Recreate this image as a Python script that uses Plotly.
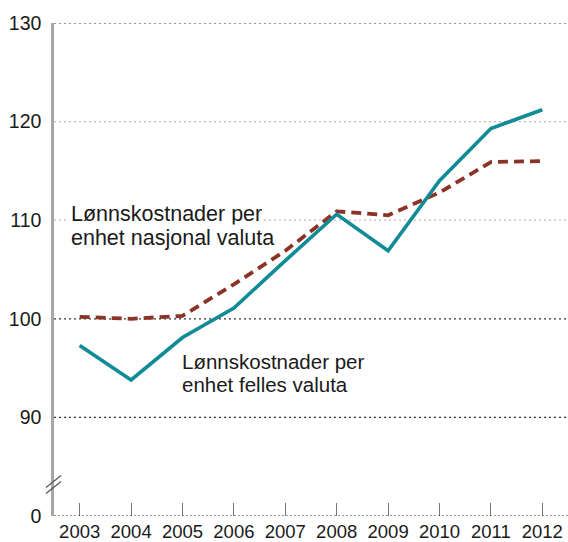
import plotly.graph_objects as go

years = [2003, 2004, 2005, 2006, 2007, 2008, 2009, 2010, 2011, 2012]
felles_valuta = [97.3, 93.8, 98.1, 101.1, 105.9, 110.6, 106.9, 114.0, 119.3, 121.2]
nasjonal_valuta = [100.2, 100.0, 100.3, 103.5, 106.9, 110.9, 110.5, 112.8, 115.9, 116.0]

# axis break: value 0 is drawn at position 80
ytick_vals = [80, 90, 100, 110, 120, 130]
ytick_text = ["0", "90", "100", "110", "120", "130"]
grid_dark = [90, 100, 130]
grid_light = [110, 120]

label_nasjonal = ["Lønnskostnader per", "enhet nasjonal valuta"]
label_felles = ["Lønnskostnader per", "enhet felles valuta"]

TEAL = "#118b95"
RED = "#8c3327"
FONT = "Liberation Sans, Arial, sans-serif"

fig = go.Figure()
fig.add_trace(go.Scatter(x=years, y=nasjonal_valuta, mode="lines",
                         line=dict(color=RED, width=3.8, dash="10px,6px"),
                         name="nasjonal"))
fig.add_trace(go.Scatter(x=years, y=felles_valuta, mode="lines",
                         line=dict(color=TEAL, width=3.6),
                         name="felles"))

shapes = []
for g in grid_dark:
    shapes.append(dict(type="line", xref="paper", x0=0, x1=1, yref="y", y0=g, y1=g,
                       line=dict(color="#333333", width=1.2, dash="2px,3px"), layer="below"))
for g in grid_light:
    shapes.append(dict(type="line", xref="paper", x0=0, x1=1, yref="y", y0=g, y1=g,
                       line=dict(color="#bdbdbd", width=1.2, dash="2px,3px"), layer="below"))
# bottom axis line (dotted)
shapes.append(dict(type="line", xref="paper", x0=0, x1=1, yref="y", y0=80, y1=80,
                   line=dict(color="#333333", width=1.2, dash="2px,2px"), layer="above"))
# axis break marks
for off in [-3, 3]:
    shapes.append(dict(type="line", xref="paper", yref="y",
                       xsizemode="pixel", ysizemode="pixel", xanchor=0, yanchor=83.2,
                       x0=-8, x1=7, y0=off - 6, y1=off + 6,
                       line=dict(color="#555555", width=1.3)))

annotations = []
for i, t in enumerate(label_nasjonal):
    annotations.append(dict(x=2002.8, y=[110.65, 108.2][i], xref="x", yref="y",
                            text=t, showarrow=False, xanchor="left", yanchor="middle",
                            bgcolor="white", borderpad=1,
                            font=dict(family=FONT, size=21.5, color="#1a1a1a")))
for i, t in enumerate(label_felles):
    annotations.append(dict(x=2004.95, y=[95.7, 93.3][i], xref="x", yref="y",
                            text=t, showarrow=False, xanchor="left", yanchor="middle",
                            font=dict(family=FONT, size=20.5, color="#1a1a1a")))

fig.update_layout(
    width=568, height=542,
    margin=dict(l=54, r=0, t=23, b=26),
    paper_bgcolor="white", plot_bgcolor="white",
    showlegend=False,
    shapes=shapes, annotations=annotations,
    font=dict(family=FONT, color="#1a1a1a"),
    xaxis=dict(range=[2002.5, 2012.5], tickvals=years, ticktext=[str(y) for y in years],
               showgrid=False, zeroline=False, showline=False,
               ticks="inside", ticklen=13, tickwidth=1.3, tickcolor="#777777",
               tickfont=dict(size=18.5, family=FONT, color="#1a1a1a"),
               ticklabelstandoff=2, automargin=False, fixedrange=True),
    yaxis=dict(range=[80, 130], tickvals=ytick_vals, ticktext=ytick_text,
               showgrid=False, zeroline=False, showline=True, linecolor="#a6a6a6",
               linewidth=2.5, ticks="",
               tickfont=dict(size=19.5, family=FONT, color="#1a1a1a"),
               ticklabelstandoff=6, automargin=False, fixedrange=True),
)

fig.write_html("out.html", config={"displayModeBar": False},
               post_script="document.body.style.margin='0';document.body.style.padding='0';")
